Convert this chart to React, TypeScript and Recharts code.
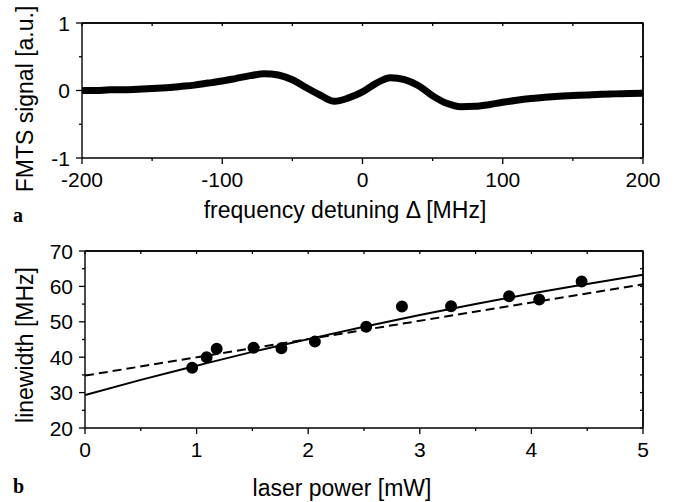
import { LineChart, Line, XAxis, YAxis, ComposedChart, Scatter, ZAxis, ReferenceLine } from "recharts";

// panel a: FMTS signal vs detuning
const detuning = [
  -200, -190, -180, -170, -160, -150, -140, -130, -120, -110, -100, -90, -80, -70, -60, -50, -40, -30, -20, -10,
  0, 10, 20, 30, 40, 50, 60, 70, 80, 90, 100, 110, 120, 130, 140, 150, 160, 170, 180, 190, 200,
];
const fmtsSignal = [
  0.0, 0.0, 0.01, 0.01, 0.02, 0.03, 0.04, 0.06, 0.08, 0.11, 0.14, 0.18, 0.22, 0.25, 0.23, 0.16, 0.04, -0.07, -0.16, -0.11,
  -0.02, 0.11, 0.19, 0.16, 0.07, -0.08, -0.19, -0.24, -0.235, -0.21, -0.175, -0.145, -0.12, -0.1, -0.085, -0.075, -0.065, -0.055, -0.05, -0.045, -0.04,
];
const detuningTicks = [-200, -150, -100, -50, 0, 50, 100, 150, 200];
const signalTicks = [-1, -0.5, 0, 0.5, 1];

// panel b: linewidth vs laser power
const powerMeasured = [0.96, 1.09, 1.18, 1.51, 1.76, 2.06, 2.52, 2.84, 3.28, 3.8, 4.07, 4.45];
const linewidthMeasured = [37.0, 40.0, 42.4, 42.7, 42.5, 44.4, 48.6, 54.3, 54.4, 57.2, 56.3, 61.4];
const fitPower = [0, 0.5, 1, 1.5, 2, 2.5, 3, 3.5, 4, 4.5, 5];
const fitLinewidth = [29.3, 33.6, 37.6, 41.5, 45.1, 48.6, 51.9, 55.0, 58.0, 60.7, 63.3];
const linearPower = [0, 5];
const linearLinewidth = [34.8, 60.6];
const powerTicks = [0, 0.5, 1, 1.5, 2, 2.5, 3, 3.5, 4, 4.5, 5];
const linewidthTicks = [20, 25, 30, 35, 40, 45, 50, 55, 60, 65, 70];

const signalData = detuning.map((x, i) => ({ x, y: fmtsSignal[i] }));
const measuredData = powerMeasured.map((p, i) => ({ p, w: linewidthMeasured[i] }));
const fitData = fitPower.map((p, i) => ({ p, w: fitLinewidth[i] }));
const linearData = linearPower.map((p, i) => ({ p, w: linearLinewidth[i] }));

const FONT = "'Liberation Sans', Arial, sans-serif";
const SERIF = "'Liberation Serif', 'Times New Roman', serif";

// plot box sizes, used to mirror the ticks onto the top and right frame
const A_PLOT_W = 561;
const A_PLOT_H = 135;
const B_PLOT_W = 558;
const B_PLOT_H = 177;

type Side = "bottom" | "left";

function axisTick(side: Side, isMajor: (v: number) => boolean, mirror: number) {
  return (props: any) => {
    const { x, y, payload } = props;
    const v = payload.value as number;
    const major = isMajor(v);
    const len = major ? 6 : 3;
    if (side === "bottom") {
      return (
        <g>
          <line x1={x} y1={y} x2={x} y2={y + len} stroke="#000" strokeWidth={1.3} />
          <line x1={x} y1={y - mirror} x2={x} y2={y - mirror + 3} stroke="#000" strokeWidth={1.3} />
          {major && (
            <text x={x} y={y + 14.5} dy="0.71em" textAnchor="middle" fontSize={21} fontFamily={FONT} fill="#000">
              {String(v)}
            </text>
          )}
        </g>
      );
    }
    return (
      <g>
        <line x1={x} y1={y} x2={x - len} y2={y} stroke="#000" strokeWidth={1.3} />
        <line x1={x + mirror} y1={y} x2={x + mirror - 3} y2={y} stroke="#000" strokeWidth={1.3} />
        {major && (
          <text x={x - 12} y={y} dy="0.36em" textAnchor="end" fontSize={21} fontFamily={FONT} fill="#000">
            {String(v)}
          </text>
        )}
      </g>
    );
  };
}

// renderers built once, so the axis settings stay the same between renders
const tickABottom = axisTick("bottom", (v) => v % 100 === 0, A_PLOT_H);
const tickALeft = axisTick("left", (v) => Number.isInteger(v), A_PLOT_W);
const tickBBottom = axisTick("bottom", (v) => Number.isInteger(v), B_PLOT_H);
const tickBLeft = axisTick("left", (v) => v % 10 === 0, B_PLOT_W);

function titleAX() {
  return (
    <g>
      <text x={345} y={218} textAnchor="middle" fontSize={23} fontFamily={FONT} fill="#000">
        frequency detuning Δ [MHz]
      </text>
      <text x={13} y={222} fontSize={20} fontWeight="bold" fontFamily={SERIF} fill="#000">
        a
      </text>
    </g>
  );
}

function titleAY() {
  return (
    <text x={33} y={99} transform="rotate(-90 33 99)" textAnchor="middle" fontSize={23} fontFamily={FONT} fill="#000">
      FMTS signal [a.u.]
    </text>
  );
}

function titleBX() {
  return (
    <g>
      <text x={342} y={266} textAnchor="middle" fontSize={23} fontFamily={FONT} fill="#000">
        laser power [mW]
      </text>
      <text x={13} y={263} fontSize={20} fontWeight="bold" fontFamily={SERIF} fill="#000">
        b
      </text>
    </g>
  );
}

function titleBY() {
  return (
    <text x={33} y={115} transform="rotate(-90 33 115)" textAnchor="middle" fontSize={23} fontFamily={FONT} fill="#000">
      linewidth [MHz]
    </text>
  );
}

function PanelA() {
  return (
    <LineChart width={680} height={230} data={signalData} margin={{ top: 23, right: 37, bottom: 0, left: 0 }}>
      <XAxis
        dataKey="x"
        type="number"
        domain={[-200, 200]}
        ticks={detuningTicks}
        interval={0}
        height={72}
        tickSize={0}
        tickMargin={0}
        stroke="#000"
        strokeWidth={1.4}
        tickLine={false}
        allowDataOverflow
        tick={tickABottom}
        label={titleAX}
      />
      <YAxis
        type="number"
        domain={[-1, 1]}
        ticks={signalTicks}
        interval={0}
        width={82}
        tickSize={0}
        tickMargin={0}
        stroke="#000"
        strokeWidth={1.4}
        tickLine={false}
        allowDataOverflow
        tick={tickALeft}
        label={titleAY}
      />
      <ReferenceLine y={1} stroke="#000" strokeWidth={1.4} ifOverflow="visible" />
      <ReferenceLine x={200} stroke="#000" strokeWidth={1.4} ifOverflow="visible" />
      <Line type="monotone" dataKey="y" stroke="#000" strokeWidth={7} dot={false} isAnimationActive={false} />
    </LineChart>
  );
}

function PanelB() {
  return (
    <ComposedChart width={680} height={272} margin={{ top: 21, right: 37, bottom: 0, left: 0 }}>
      <XAxis
        dataKey="p"
        type="number"
        domain={[0, 5]}
        ticks={powerTicks}
        interval={0}
        height={74}
        tickSize={0}
        tickMargin={0}
        stroke="#000"
        strokeWidth={1.4}
        tickLine={false}
        allowDataOverflow
        tick={tickBBottom}
        label={titleBX}
      />
      <YAxis
        dataKey="w"
        type="number"
        domain={[20, 70]}
        ticks={linewidthTicks}
        interval={0}
        width={85}
        tickSize={0}
        tickMargin={0}
        stroke="#000"
        strokeWidth={1.4}
        tickLine={false}
        allowDataOverflow
        tick={tickBLeft}
        label={titleBY}
      />
      <ReferenceLine y={70} stroke="#000" strokeWidth={1.4} ifOverflow="visible" />
      <ReferenceLine x={5} stroke="#000" strokeWidth={1.4} ifOverflow="visible" />
      <ZAxis range={[113, 113]} />
      <Line
        data={linearData}
        type="linear"
        dataKey="w"
        stroke="#000"
        strokeWidth={2}
        strokeDasharray="9 5"
        dot={false}
        isAnimationActive={false}
      />
      <Line data={fitData} type="monotone" dataKey="w" stroke="#000" strokeWidth={2} dot={false} isAnimationActive={false} />
      <Scatter data={measuredData} dataKey="w" fill="#000" isAnimationActive={false} />
    </ComposedChart>
  );
}

// top and right edges of the two plot boxes
function Frames() {
  return (
    <svg
      width={680}
      height={502}
      style={{ position: "absolute", left: 0, top: 0, pointerEvents: "none" }}
    >
      <path d="M82 23 H643 V158" fill="none" stroke="#000" strokeWidth={1.4} />
      <path d="M85 251 H643 V428" fill="none" stroke="#000" strokeWidth={1.4} />
    </svg>
  );
}

export default function App() {
  return (
    <div style={{ position: "absolute", left: 0, top: 0, width: 680, height: 502, background: "#fff" }}>
      <div style={{ position: "absolute", left: 0, top: 0 }}>
        <PanelA />
      </div>
      <div style={{ position: "absolute", left: 0, top: 230 }}>
        <PanelB />
      </div>
      <Frames />
    </div>
  );
}
